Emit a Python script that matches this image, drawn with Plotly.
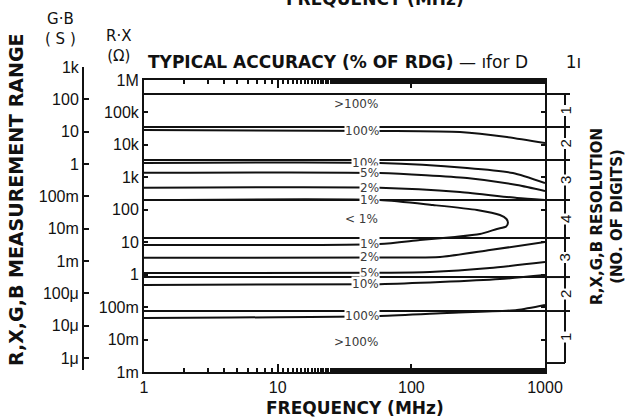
import math
import plotly.graph_objects as go

# ---------------- data ----------------
freq_range = [1, 1000]                      # MHz
freq_tickvals = [1, 10, 100, 1000]
freq_ticktext = ["1", "10", "100", "1000"]

rx_range = [1e-3, 1e6]                      # ohm
rx_tickvals = [1e-3, 1e-2, 1e-1, 1, 10, 100, 1e3, 1e4, 1e5, 1e6]
rx_ticktext = ["1m", "10m", "100m", "1", "10", "100", "1k", "10k", "100k", "1M"]

gb_tickvals = [1e-6, 1e-5, 1e-4, 1e-3, 1e-2, 1e-1, 1, 10, 100, 1e3]
gb_ticktext = ["1\u03bc", "10\u03bc", "100\u03bc", "1m", "10m", "100m", "1", "10", "100", "1k"]

# horizontal range boundaries (ohm)
boundaries = [3.7e5, 3.56e4, 3.42e3, 200, 13.5, 0.845, 0.0757]
# resolution bracket edges (ohm) and digits per segment
res_edges = [3.7e5, 3.56e4, 3.42e3, 200, 13.5, 0.845, 0.0757, 1.89e-3]
res_digits = ["1", "2", "3", "4", "3", "2", "1"]

# accuracy contours: frequency (MHz) and impedance (ohm)
up100_f = [1, 58, 231, 519, 1000]
up100_r = [28.8e3, 26.8e3, 24.9e3, 17.5e3, 11.4e3]
up10_f = [1, 58, 261, 575, 1000]
up10_r = [2760, 2760, 1940, 1360, 669]
up5_f = [1, 58, 261, 617, 1000]
up5_r = [1380, 1360, 953, 580, 378]
up2_f = [1, 58, 231, 617, 1000]
up2_r = [480, 480, 352, 231, 200]
one_f = [1, 58, 145, 310, 460, 515, 528, 512, 437, 326, 212, 116, 58, 1]
one_r = [200, 200, 140, 98.4, 68.9, 52.0, 40.0, 30.5, 25.6, 17.9, 14.5, 11.7, 8.81, 8.2]
lo2_f = [1, 58, 164, 387, 1000]
lo2_r = [3.3, 3.4, 3.5, 5.75, 10.1]
lo5_f = [1, 58, 138, 387, 1000]
lo5_r = [1.12, 1.15, 1.21, 1.60, 2.45]
lo10_f = [1, 58, 164, 460, 1000]
lo10_r = [0.479, 0.51, 0.593, 0.734, 0.976]
lo100_f = [1, 58, 185, 617, 1000]
lo100_r = [0.046, 0.053, 0.0657, 0.0813, 0.116]

contours = [
    (up100_f, up100_r, "100%"),
    (up10_f, up10_r, "10%"),
    (up5_f, up5_r, "5%"),
    (up2_f, up2_r, "2%"),
    (one_f, one_r, "1%"),
    (lo2_f, lo2_r, "2%"),
    (lo5_f, lo5_r, "5%"),
    (lo10_f, lo10_r, "10%"),
    (lo100_f, lo100_r, "100%"),
]

# ---------------- layout geometry ----------------
W, H = 627, 417
ML, MR, MT, MB = 70, 20, 60, 40
PW, PH = W - ML - MR, H - MT - MB


def px(x):
    return (x - ML) / PW


def py(y):
    return (H - MB - y) / PH


lg = math.log10
BLACK = "#111111"
FONT = "Liberation Sans, Arial, sans-serif"
BFONT = "DejaVu Sans, sans-serif"

fig = go.Figure()

for b in boundaries:
    fig.add_trace(go.Scatter(x=freq_range, y=[b, b], mode="lines",
                             line=dict(color=BLACK, width=2), hoverinfo="skip",
                             showlegend=False))

for f, r, _ in contours:
    fig.add_trace(go.Scatter(x=f, y=r, mode="lines",
                             line=dict(color=BLACK, width=2, shape="spline", smoothing=0.6),
                             hoverinfo="skip", showlegend=False))

# dummy trace to materialise the G.B axis
fig.add_trace(go.Scatter(x=[freq_range[0]] * 2, y=[gb_tickvals[0], gb_tickvals[-1]],
                         yaxis="y2", mode="lines", opacity=0, hoverinfo="skip",
                         showlegend=False))

ann = []
lab_font = dict(family=BFONT, size=12, color="#3a3a3a")
for f, r, t in contours:
    ann.append(dict(x=lg(f[1]), y=lg(r[1]), xref="x", yref="y", text=t,
                    showarrow=False, xanchor="right", yanchor="middle",
                    font=lab_font, bgcolor="white", borderpad=0))
ann.append(dict(x=lg(one_f[-2]), y=lg(one_r[-2]), xref="x", yref="y", text="1%",
                showarrow=False, xanchor="right", yanchor="middle",
                font=lab_font, bgcolor="white", borderpad=0))
ann.append(dict(x=lg(one_f[1]), y=(lg(rx_range[1]) + lg(boundaries[1])) / 2, xref="x", yref="y",
                text=">100%", showarrow=False, xanchor="right", yanchor="middle", font=lab_font))
ann.append(dict(x=lg(one_f[1]), y=(lg(boundaries[3]) + lg(boundaries[4])) / 2, xref="x", yref="y",
                text="< 1%", showarrow=False, xanchor="right", yanchor="middle", font=lab_font))
ann.append(dict(x=lg(one_f[1]), y=(lg(rx_range[0]) + lg(boundaries[-1])) / 2, xref="x", yref="y",
                text=">100%", showarrow=False, xanchor="right", yanchor="middle", font=lab_font))

# resolution bracket (shapes on log axis take data values here)
shapes = []
xb0, xb1, xbt = px(545), px(565), px(570)
shapes.append(dict(type="line", xref="paper", yref="y", x0=xb1, x1=xb1,
                   y0=res_edges[0], y1=res_edges[-1],
                   line=dict(color=BLACK, width=2)))
for i, e in enumerate(res_edges):
    shapes.append(dict(type="line", xref="paper", yref="y", x0=xb0,
                       x1=(xb1 if i == len(res_edges) - 1 else xbt),
                       y0=e, y1=e, line=dict(color=BLACK, width=2)))
for i, d in enumerate(res_digits):
    ann.append(dict(x=xb1, y=(lg(res_edges[i]) + lg(res_edges[i + 1])) / 2,
                    xref="paper", yref="y", text=d, showarrow=False, textangle=-90,
                    xanchor="center", yanchor="middle",
                    font=dict(family=FONT, size=15, color=BLACK), bgcolor="white",
                    borderpad=1))


def note(x, y, text, size, family=BFONT, angle=0, xanchor="center"):
    return dict(x=px(x), y=py(y), xref="paper", yref="paper", text=text,
                showarrow=False, xanchor=xanchor, yanchor="middle", textangle=angle,
                font=dict(family=family, size=size, color=BLACK))


ann += [
    note(375, -1, "<b>FREQUENCY (MHz)</b>", 17),
    note(146, 62, "<b>TYPICAL ACCURACY (% OF RDG)</b> \u2014 \u0131for D \u00a0 \u00a0 \u00a0 1\u0131",
         17, xanchor="left"),
    note(60, 29, "G\u00b7B<br>( S )", 15),
    note(118, 46, "R\u00b7X<br>(\u03a9)", 15),
    note(16, 200, "<b>R,X,G,B MEASUREMENT RANGE</b>", 19, angle=-90),
    note(607, 217, "<b>R,X,G,B RESOLUTION<br>(NO. OF DIGITS)</b>", 15, angle=-90),
    note(355, 408, "<b>FREQUENCY (MHz)</b>", 17),
]

tickfont = dict(family=FONT, size=16, color=BLACK)
fig.update_layout(
    width=W, height=H, margin=dict(l=ML, r=MR, t=MT, b=MB, autoexpand=False),
    paper_bgcolor="white", plot_bgcolor="rgba(0,0,0,0)", showlegend=False,
    xaxis=dict(type="log", range=[lg(freq_range[0]), lg(freq_range[1])],
               domain=[px(144), px(545)], anchor="y", automargin=False,
               tickvals=freq_tickvals, ticktext=freq_ticktext, tickfont=tickfont,
               ticks="inside", ticklen=8, tickwidth=1.5, tickcolor=BLACK,
               showline=True, linecolor=BLACK, linewidth=2, mirror="ticks",
               showgrid=False, zeroline=False,
               minor=dict(ticks="inside", ticklen=4, tickcolor=BLACK, showgrid=False)),
    yaxis=dict(type="log", range=[lg(rx_range[0]), lg(rx_range[1])],
               domain=[py(372), py(80)], anchor="x", automargin=False,
               tickvals=rx_tickvals, ticktext=rx_ticktext, tickfont=tickfont,
               ticks="inside", ticklen=4, tickwidth=1.5, tickcolor=BLACK,
               showline=True, linecolor=BLACK, linewidth=2, mirror="ticks",
               showgrid=False, zeroline=False),
    yaxis2=dict(type="log", range=[-6 - 12 / 32.33, 3],
                domain=[py(370), py(67)], anchor="free", position=px(83), side="left",
                automargin=False,
                tickvals=gb_tickvals, ticktext=gb_ticktext, tickfont=tickfont,
                ticks="inside", ticklen=5, tickwidth=1.5, tickcolor=BLACK,
                showline=True, linecolor=BLACK, linewidth=2,
                showgrid=False, zeroline=False),
    shapes=shapes, annotations=ann,
)

fig.write_html("out.html", config={"displayModeBar": False},
               post_script="document.body.style.margin='0';document.body.style.overflow='hidden';")
